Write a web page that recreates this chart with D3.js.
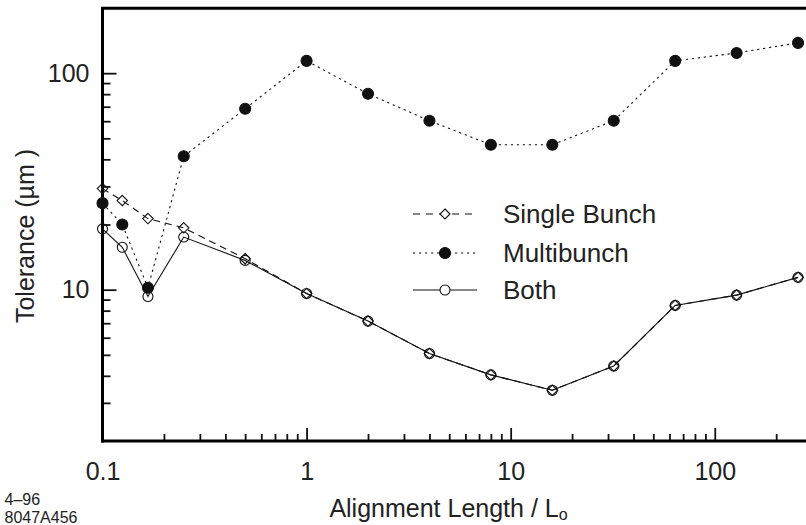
<!DOCTYPE html>
<html><head><meta charset="utf-8">
<script src="https://cdn.jsdelivr.net/npm/d3@7/dist/d3.min.js"></script>
<style>body{margin:0;background:#fff} svg{display:block}</style>
</head><body><svg id="c" width="806" height="525"></svg>
<script>
const xValues = [0.1, 0.125, 0.167, 0.25, 0.5, 1, 2, 4, 8, 16, 32, 64, 128, 256];
const singleBunch = [29.3, 25.8, 21.3, 19.3, 13.9, 9.6, 7.16, 5.07, 4.04, 3.43, 4.44, 8.46, 9.44, 11.4];
const multibunch = [25.1, 20.0, 10.2, 41.3, 68.5, 114, 80.3, 60.3, 46.7, 46.7, 60.3, 114, 124, 138];
const both = [19.1, 15.7, 9.3, 17.5, 13.65, 9.6, 7.16, 5.07, 4.04, 3.43, 4.44, 8.46, 9.44, 11.4];
const seriesNames = ["Single Bunch", "Multibunch", "Both"];
const xMajorTicks = [0.1, 1, 10, 100];
const xMinorTicks = [0.2, 0.3, 0.4, 0.5, 0.6, 0.7, 0.8, 0.9, 2, 3, 4, 5, 6, 7, 8, 9, 20, 30, 40, 50, 60, 70, 80, 90, 200];
const yMajorTicks = [10, 100];
const yMinorTicks = [3, 4, 5, 6, 7, 8, 9, 20, 30, 40, 50, 60, 70, 80, 90];
const xTitle = "Alignment Length / L";
const xTitleSub = "o";
const yTitle = "Tolerance (µm )";
const footnote = ["4–96", "8047A456"];

const FONT = "'Liberation Sans', Arial, Helvetica, sans-serif";
const svg = d3.select("#c");
const x = d3.scaleLog().domain([0.1, 280]).range([102.5, 806]);
const y = d3.scaleLog().domain([2, 200]).range([441, 8]);

// axes ticks (inward)
function styleAxis(g) {
  g.select(".domain").remove();
  g.selectAll(".tick line").attr("stroke", "#111").attr("stroke-width", 1.8);
  g.selectAll(".tick text").attr("fill", "#222").style("font-family", FONT).style("font-size", "25px");
}
svg.append("g").attr("transform", "translate(102.5,0)")
  .call(d3.axisLeft(y).tickValues(yMajorTicks).tickSize(-14).tickPadding(13).tickFormat(d3.format("d")))
  .call(styleAxis);
svg.append("g").attr("transform", "translate(102.5,0)")
  .call(d3.axisLeft(y).tickValues(yMinorTicks).tickSize(-8).tickFormat(""))
  .call(styleAxis);
const xa = svg.append("g").attr("transform", "translate(0,441)")
  .call(d3.axisBottom(x).tickValues(xMajorTicks).tickSize(-13).tickPadding(18).tickFormat(d => d < 1 ? "0.1" : d3.format("d")(d)))
  .call(styleAxis);
xa.selectAll(".tick text").attr("dy", null).attr("y", 39);
svg.append("g").attr("transform", "translate(0,441)")
  .call(d3.axisBottom(x).tickValues(xMinorTicks).tickSize(-7).tickFormat(""))
  .call(styleAxis);

// frame lines
svg.append("line").attr("x1", 102.5).attr("x2", 102.5).attr("y1", 7).attr("y2", 442.5).attr("stroke", "#000").attr("stroke-width", 3);
svg.append("line").attr("x1", 101).attr("x2", 806).attr("y1", 441).attr("y2", 441).attr("stroke", "#000").attr("stroke-width", 3);
svg.append("line").attr("x1", 101).attr("x2", 806).attr("y1", 8.3).attr("y2", 8.3).attr("stroke", "#000").attr("stroke-width", 3);

// series
const line = d3.line().x(d => x(d[0])).y(d => y(d[1]));
const styles = [
  {data: singleBunch, dash: "7,5", marker: "diamond", fill: "none"},
  {data: multibunch, dash: "2.2,3.8", marker: "circle", fill: "#111", r: 5.5},
  {data: both, dash: null, marker: "circle", fill: "none", r: 5}
];
const diamond = (cx, cy, s) => `M${cx},${cy - s}L${cx + s},${cy}L${cx},${cy + s}L${cx - s},${cy}Z`;
styles.forEach(s => {
  const pts = xValues.map((xv, i) => [xv, s.data[i]]);
  svg.append("path").datum(pts).attr("d", line).attr("fill", "none")
    .attr("stroke", "#111").attr("stroke-width", 1.1).attr("stroke-dasharray", s.dash);
});
styles.forEach(s => {
  const pts = xValues.map((xv, i) => [xv, s.data[i]]);
  if (s.marker === "diamond") {
    svg.append("g").selectAll("path").data(pts).join("path")
      .attr("d", d => diamond(x(d[0]), y(d[1]), 5.2)).attr("fill", s.fill).attr("stroke", "#111").attr("stroke-width", 1.1);
  } else {
    svg.append("g").selectAll("circle").data(pts).join("circle")
      .attr("cx", d => x(d[0])).attr("cy", d => y(d[1])).attr("r", s.r)
      .attr("fill", s.fill).attr("stroke", "#111").attr("stroke-width", 1.1);
  }
});

// legend
const legY = [214, 253, 290];
styles.forEach((s, i) => {
  const g = svg.append("g");
  g.append("line").attr("x1", 413).attr("x2", 477).attr("y1", legY[i]).attr("y2", legY[i])
    .attr("stroke", "#111").attr("stroke-width", 1.1).attr("stroke-dasharray", i === 0 ? "7,6" : s.dash);
  if (s.marker === "diamond") {
    g.append("path").attr("d", diamond(445, legY[i], 5)).attr("fill", "#fff").attr("stroke", "#111").attr("stroke-width", 1.1);
  } else {
    g.append("circle").attr("cx", 445).attr("cy", legY[i]).attr("r", s.r)
      .attr("fill", s.fill === "none" ? "#fff" : s.fill).attr("stroke", "#111").attr("stroke-width", 1.1);
  }
  g.append("text").attr("x", 503).attr("y", legY[i] + 9).text(seriesNames[i])
    .style("font-family", FONT).style("font-size", "26px").attr("fill", "#222");
});

// titles
const xt = svg.append("text").attr("x", 448.5).attr("y", 517).attr("text-anchor", "middle")
  .style("font-family", FONT).style("font-size", "25px").attr("fill", "#222");
xt.append("tspan").text(xTitle);
xt.append("tspan").text(xTitleSub).attr("dy", 3).style("font-size", "16px");
svg.append("text").attr("transform", "translate(34,236) rotate(-90)").attr("text-anchor", "middle")
  .style("font-family", FONT).style("font-size", "25px").attr("fill", "#222").text(yTitle);
footnote.forEach((t, i) => {
  svg.append("text").attr("x", 4.5).attr("y", 504.5 + i * 18).text(t)
    .style("font-family", FONT).style("font-size", "16px").attr("fill", "#222");
});
</script>
</body></html>
